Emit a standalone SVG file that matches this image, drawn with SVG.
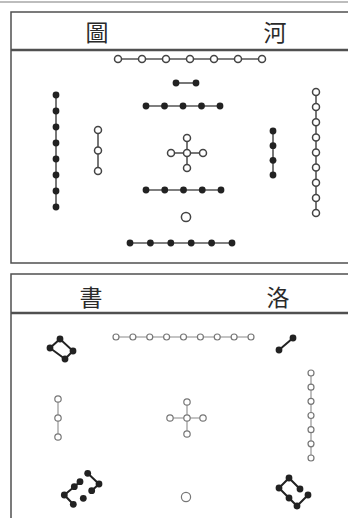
<svg xmlns="http://www.w3.org/2000/svg" width="348" height="518" viewBox="0 0 348 518">
<style>
.frame{fill:none;stroke:#505050;stroke-width:1.5}
.hdr{stroke:#505050;stroke-width:2.6}
.title{font-family:"Noto Sans CJK TC","Noto Sans CJK SC",sans-serif;font-size:23px;fill:#2a2a2a;text-anchor:middle}
.lk{stroke:#555;stroke-width:1.6;fill:none}
.lkl{stroke:#8a8a8a;stroke-width:1.1;fill:none}
.lkb{stroke:#222;stroke-width:2;fill:none}
.b{fill:#222}
.o{fill:#fff;stroke:#444;stroke-width:1.5}
.os{fill:#fff;stroke:#777;stroke-width:1.2}
</style>
<rect width="348" height="518" fill="#fff"/>
<line x1="0" y1="2" x2="348" y2="2" stroke="#bdbdbd" stroke-width="2"/>

<g id="frame-hetu">
<path class="frame" d="M350 12 H11 V263 H350"/>
<line class="hdr" x1="11" y1="50" x2="350" y2="50"/>
<text class="title" x="97" y="41">圖</text>
<text class="title" x="275" y="41">河</text>
</g>
<g id="frame-luoshu">
<path class="frame" d="M350 274 H11 V520"/>
<line class="hdr" x1="11" y1="313" x2="350" y2="313"/>
<text class="title" x="91" y="306">書</text>
<text class="title" x="278" y="306">洛</text>
</g>

<g id="connectors">
<!-- Hetu -->
<line class="lk" x1="118" y1="59" x2="262" y2="59"/>
<line class="lk" x1="176" y1="83" x2="196" y2="83"/>
<line class="lk" x1="146" y1="106" x2="220" y2="106"/>
<line class="lk" x1="187" y1="138" x2="187" y2="168"/>
<line class="lk" x1="171" y1="153" x2="203" y2="153"/>
<line class="lk" x1="146" y1="190" x2="221" y2="190"/>
<line class="lk" x1="130" y1="243" x2="232" y2="243"/>
<line class="lk" x1="56" y1="95" x2="56" y2="207"/>
<line class="lk" x1="98" y1="130" x2="98" y2="171"/>
<line class="lk" x1="273" y1="131" x2="273" y2="175"/>
<line class="lk" x1="316" y1="92" x2="316" y2="213"/>
<!-- Luoshu -->
<line class="lkl" x1="116" y1="337" x2="251" y2="337"/>
<line class="lkb" x1="279" y1="350" x2="293" y2="338"/>
<path class="lkb" d="M60 339 L50 348 L65 359 L73 351 Z"/>
<line class="lkl" x1="58" y1="399" x2="58" y2="437"/>
<line class="lkl" x1="187" y1="402" x2="187" y2="434"/>
<line class="lkl" x1="170" y1="418" x2="203" y2="418"/>
<line class="lkl" x1="311" y1="373" x2="311" y2="458"/>
<path class="lkb" d="M80 481.7 L74.3 486.7 L64.3 495 L73.3 504.3"/>
<path class="lkb" d="M87.7 473.3 L99 484 L91.7 490.7"/>
<path class="lkb" d="M300 489 L289 478 L279 488 L289 498 L297 506 L308 495"/>
</g>

<g id="hetu-7-south-top">
<circle class="o" cx="118" cy="59" r="3.5"/><circle class="o" cx="142" cy="59" r="3.5"/><circle class="o" cx="166" cy="59" r="3.5"/><circle class="o" cx="190" cy="59" r="3.5"/><circle class="o" cx="214" cy="59" r="3.5"/><circle class="o" cx="238" cy="59" r="3.5"/><circle class="o" cx="262" cy="59" r="3.5"/>
</g>
<g id="hetu-2">
<circle class="b" cx="176" cy="83" r="3.4"/><circle class="b" cx="196" cy="83" r="3.4"/>
</g>
<g id="hetu-10-upper">
<circle class="b" cx="146" cy="106" r="3.4"/><circle class="b" cx="164.5" cy="106" r="3.4"/><circle class="b" cx="183" cy="106" r="3.4"/><circle class="b" cx="201.5" cy="106" r="3.4"/><circle class="b" cx="220" cy="106" r="3.4"/>
</g>
<g id="hetu-5">
<circle class="o" cx="187" cy="138" r="3.5"/><circle class="o" cx="171" cy="153" r="3.5"/><circle class="o" cx="187" cy="153" r="3.5"/><circle class="o" cx="203" cy="153" r="3.5"/><circle class="o" cx="187" cy="168" r="3.5"/>
</g>
<g id="hetu-10-lower">
<circle class="b" cx="146" cy="190" r="3.4"/><circle class="b" cx="164.75" cy="190" r="3.4"/><circle class="b" cx="183.5" cy="190" r="3.4"/><circle class="b" cx="202.25" cy="190" r="3.4"/><circle class="b" cx="221" cy="190" r="3.4"/>
</g>
<g id="hetu-1">
<circle class="o" cx="186" cy="217" r="4.6" stroke-width="1.8"/>
</g>
<g id="hetu-6">
<circle class="b" cx="130" cy="243" r="3.4"/><circle class="b" cx="150.4" cy="243" r="3.4"/><circle class="b" cx="170.8" cy="243" r="3.4"/><circle class="b" cx="191.2" cy="243" r="3.4"/><circle class="b" cx="211.6" cy="243" r="3.4"/><circle class="b" cx="232" cy="243" r="3.4"/>
</g>
<g id="hetu-8">
<circle class="b" cx="56" cy="95" r="3.4"/><circle class="b" cx="56" cy="111" r="3.4"/><circle class="b" cx="56" cy="127" r="3.4"/><circle class="b" cx="56" cy="143" r="3.4"/><circle class="b" cx="56" cy="159" r="3.4"/><circle class="b" cx="56" cy="175" r="3.4"/><circle class="b" cx="56" cy="191" r="3.4"/><circle class="b" cx="56" cy="207" r="3.4"/>
</g>
<g id="hetu-3">
<circle class="o" cx="98" cy="130" r="3.5"/><circle class="o" cx="98" cy="150.5" r="3.5"/><circle class="o" cx="98" cy="171" r="3.5"/>
</g>
<g id="hetu-4">
<circle class="b" cx="273" cy="131" r="3.4"/><circle class="b" cx="273" cy="145.7" r="3.4"/><circle class="b" cx="273" cy="160.3" r="3.4"/><circle class="b" cx="273" cy="175" r="3.4"/>
</g>
<g id="hetu-9">
<circle class="o" cx="316" cy="92" r="3.5"/><circle class="o" cx="316" cy="107.1" r="3.5"/><circle class="o" cx="316" cy="122.3" r="3.5"/><circle class="o" cx="316" cy="137.4" r="3.5"/><circle class="o" cx="316" cy="152.5" r="3.5"/><circle class="o" cx="316" cy="167.6" r="3.5"/><circle class="o" cx="316" cy="182.8" r="3.5"/><circle class="o" cx="316" cy="197.9" r="3.5"/><circle class="o" cx="316" cy="213" r="3.5"/>
</g>

<g id="luoshu-9">
<circle class="os" cx="116" cy="337" r="3"/><circle class="os" cx="132.9" cy="337" r="3"/><circle class="os" cx="149.75" cy="337" r="3"/><circle class="os" cx="166.6" cy="337" r="3"/><circle class="os" cx="183.5" cy="337" r="3"/><circle class="os" cx="200.4" cy="337" r="3"/><circle class="os" cx="217.25" cy="337" r="3"/><circle class="os" cx="234.1" cy="337" r="3"/><circle class="os" cx="251" cy="337" r="3"/>
</g>
<g id="luoshu-2">
<circle class="b" cx="279" cy="350" r="3.4"/><circle class="b" cx="293" cy="338" r="3.4"/>
</g>
<g id="luoshu-4">
<circle class="b" cx="60" cy="339" r="3.4"/><circle class="b" cx="50" cy="348" r="3.4"/><circle class="b" cx="65" cy="359" r="3.4"/><circle class="b" cx="73" cy="351" r="3.4"/>
</g>
<g id="luoshu-3">
<circle class="os" cx="58" cy="399" r="3.2"/><circle class="os" cx="58" cy="418" r="3.2"/><circle class="os" cx="58" cy="437" r="3.2"/>
</g>
<g id="luoshu-5">
<circle class="os" cx="187" cy="402" r="3.2"/><circle class="os" cx="170" cy="418" r="3.2"/><circle class="os" cx="187" cy="418" r="3.2"/><circle class="os" cx="203" cy="418" r="3.2"/><circle class="os" cx="187" cy="434" r="3.2"/>
</g>
<g id="luoshu-7">
<circle class="os" cx="311" cy="373" r="3"/><circle class="os" cx="311" cy="387.2" r="3"/><circle class="os" cx="311" cy="401.3" r="3"/><circle class="os" cx="311" cy="415.5" r="3"/><circle class="os" cx="311" cy="429.7" r="3"/><circle class="os" cx="311" cy="443.8" r="3"/><circle class="os" cx="311" cy="458" r="3"/>
</g>
<g id="luoshu-8">
<circle class="b" cx="80" cy="481.7" r="3.4"/><circle class="b" cx="74.3" cy="486.7" r="3.4"/><circle class="b" cx="64.3" cy="495" r="3.4"/><circle class="b" cx="73.3" cy="504.3" r="3.4"/><circle class="b" cx="87.7" cy="473.3" r="3.4"/><circle class="b" cx="99" cy="484" r="3.4"/><circle class="b" cx="91.7" cy="490.7" r="3.4"/><circle class="b" cx="83.3" cy="498.3" r="3.4"/>
</g>
<g id="luoshu-1">
<circle class="os" cx="186" cy="497" r="4.6" stroke-width="1.5"/>
</g>
<g id="luoshu-6">
<circle class="b" cx="300" cy="489" r="3.4"/><circle class="b" cx="289" cy="478" r="3.4"/><circle class="b" cx="279" cy="488" r="3.4"/><circle class="b" cx="289" cy="498" r="3.4"/><circle class="b" cx="297" cy="506" r="3.4"/><circle class="b" cx="308" cy="495" r="3.4"/>
</g>
</svg>
